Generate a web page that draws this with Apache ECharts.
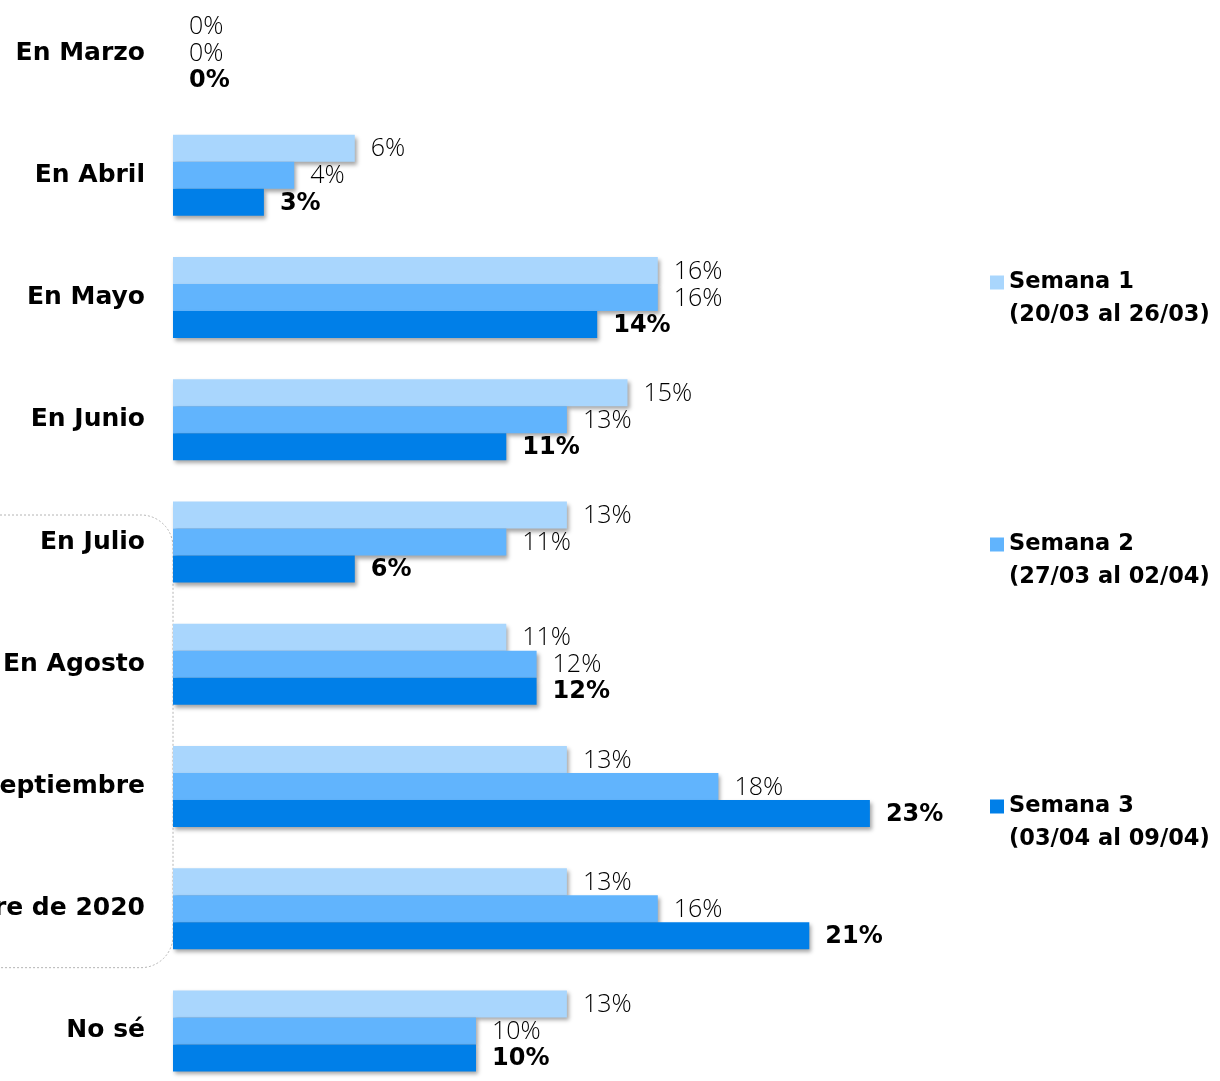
<!DOCTYPE html>
<html>
<head>
<meta charset="utf-8">
<script src="https://cdn.jsdelivr.net/npm/echarts@6/dist/echarts.min.js"></script>
<style>
  html, body { margin: 0; padding: 0; background: #fff; }
  #chart { width: 1220px; height: 1081px; }
</style>
</head>
<body>
<div id="chart"></div>
<script>
// Expected month of return, share of answers per survey week
const categories = [
  'En Marzo', 'En Abril', 'En Mayo', 'En Junio', 'En Julio',
  'En Agosto', 'En Septiembre', 'En Octubre a Diciembre de 2020', 'No sé'
];
const seriesNames = [
  'Semana 1\n(20/03 al 26/03)',
  'Semana 2\n(27/03 al 02/04)',
  'Semana 3\n(03/04 al 09/04)'
];
const semana1 = [0, 6, 16, 15, 13, 11, 13, 13, 13];
const semana2 = [0, 4, 16, 13, 11, 12, 18, 16, 10];
const semana3 = [0, 3, 14, 11, 6, 12, 23, 21, 10];
const colors = ['#A9D6FD', '#61B4FD', '#007FE8'];

const FONT = '"DejaVu Sans", sans-serif';
const LIGHT_FONT = '"Open Sans", "DejaVu Sans", sans-serif';

const chart = echarts.init(document.getElementById('chart'));

function makeSeries(name, values, idx) {
  const bold = idx === 2;
  return {
    name: name,
    type: 'bar',
    data: values,
    barWidth: 27,
    barGap: '0%',
    itemStyle: {
      color: colors[idx],
      shadowColor: 'rgba(0,0,0,0.35)',
      shadowBlur: 4,
      shadowOffsetX: 2,
      shadowOffsetY: 3
    },
    label: {
      show: true,
      position: 'right',
      distance: 16,
      offset: [0, 1],
      formatter: '{c}%',
      color: '#000',
      fontFamily: bold ? FONT : LIGHT_FONT,
      fontWeight: bold ? 'bold' : 300,
      fontSize: bold ? 24 : 25
    }
  };
}

chart.setOption({
  animation: false,
  grid: {
    left: 173, top: -8, width: 909, height: 1100,
    containLabel: false,
    outerBoundsMode: 'none'
  },
  xAxis: {
    type: 'value', min: 0, max: 30,
    show: false
  },
  yAxis: {
    type: 'category',
    data: categories,
    inverse: true,
    axisLine: { show: false },
    axisTick: { show: false },
    axisLabel: {
      margin: 28,
      color: '#000',
      fontFamily: FONT,
      fontWeight: 'bold',
      fontSize: 25
    }
  },
  legend: {
    orient: 'vertical',
    left: 990,
    top: 233,
    padding: 0,
    itemWidth: 14,
    itemHeight: 14,
    itemGap: 163,
    icon: 'rect',
    data: seriesNames,
    // leading blank line keeps the swatch level with the first text line
    formatter: name => ' \n' + name,
    textStyle: {
      color: '#000',
      fontFamily: FONT,
      fontWeight: 'bold',
      fontSize: 22.5,
      lineHeight: 33
    }
  },
  series: [
    makeSeries(seriesNames[0], semana1, 0),
    makeSeries(seriesNames[1], semana2, 1),
    makeSeries(seriesNames[2], semana3, 2)
  ]
});

// Dotted rounded frame grouping July to the end of 2020
const frameTop = chart.convertToPixel({ yAxisIndex: 0 }, categories[4]);
const frameBottom = chart.convertToPixel({ yAxisIndex: 0 }, categories[7]);
const axisX0 = chart.convertToPixel({ xAxisIndex: 0 }, 0);
chart.setOption({
  graphic: [{
    type: 'rect',
    silent: true,
    z: -1,
    shape: {
      x: -40,
      y: frameTop - 27,
      width: axisX0 + 40,
      height: frameBottom - frameTop + 86,
      r: 32
    },
    style: { fill: 'none', stroke: '#B4B4B4', lineWidth: 1, lineDash: [2, 2] }
  }]
});
</script>
</body>
</html>
